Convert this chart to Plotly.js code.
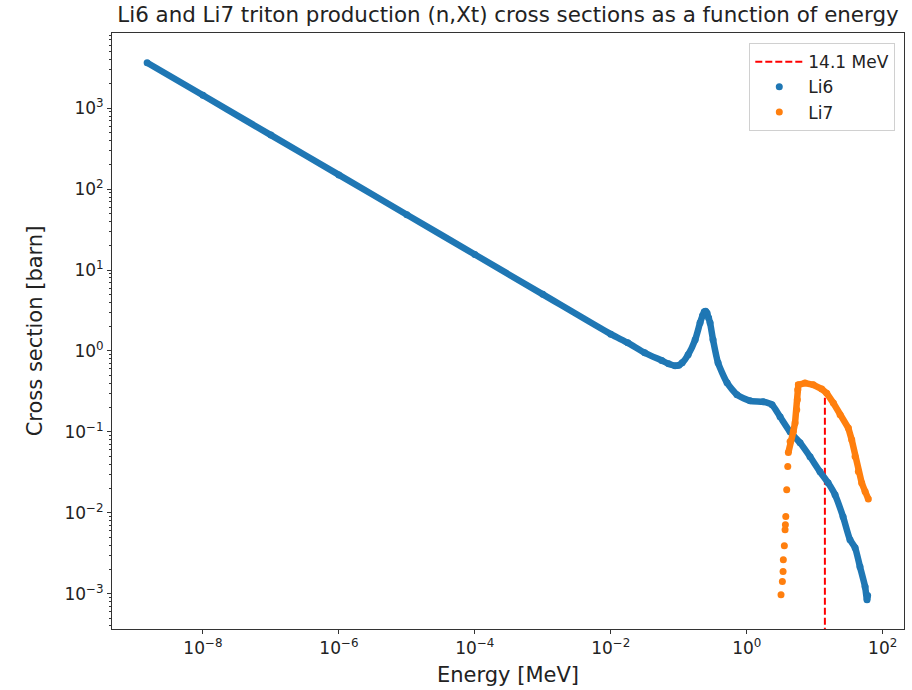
<!DOCTYPE html>
<html><head><meta charset="utf-8">
<script src="https://cdn.plot.ly/plotly-3.0.1.min.js"></script>
<style>body{margin:0;padding:0;background:#fff}#chart{width:912px;height:690px}</style>
</head><body><div id="chart"></div>
<script>
// Li6 (n,Xt) cross section, energy in MeV, cross section in barn
const li6Energy = [1.51e-9, 1e-8, 1e-7, 1e-6, 1e-5, 1e-4, 1e-3, 1e-2, 0.0178, 0.0316, 0.0562, 0.0708, 0.0883, 0.1, 0.112, 0.137, 0.174, 0.2056, 0.224, 0.237, 0.248, 0.26, 0.275, 0.2884, 0.319, 0.378, 0.513, 0.719, 1.12, 1.738, 2.355, 3.09, 4.335, 6.08, 8.53, 11.97, 15.7, 19.9, 26.1, 33.0, 39.2, 46.3, 55.0, 58.7, 60.0];
const li6Xs = [3656, 1445, 465.6, 150, 48.3, 15.56, 5.01, 1.614, 1.26, 0.95, 0.762, 0.695, 0.656, 0.668, 0.714, 0.897, 1.374, 2.228, 2.75, 3.05, 3.1, 2.95, 2.55, 2.228, 1.374, 0.714, 0.405, 0.288, 0.242, 0.2355, 0.216, 0.154, 0.1002, 0.0733, 0.0493, 0.0321, 0.0235, 0.0167, 0.00893, 0.00465, 0.0037, 0.00215, 0.00122, 0.00084, 0.00095];
// Li7 (n,Xt) cross section
const li7Energy = [3.19, 3.34, 3.42, 3.45, 3.57, 3.66, 3.70, 3.75, 3.87, 4.01, 4.09, 4.34, 4.84, 5.13, 5.43, 5.55, 5.62, 5.74, 7.19, 9.53, 12.68, 15.0, 18.8, 23.6, 31.2, 35.0, 39.2, 43.8, 49.1, 55.0, 61.4];
const li7Xs = [0.00097, 0.00142, 0.00188, 0.00263, 0.00392, 0.00617, 0.00711, 0.00902, 0.0193, 0.0374, 0.0557, 0.0760, 0.1012, 0.1285, 0.1875, 0.249, 0.331, 0.382, 0.401, 0.382, 0.338, 0.301, 0.227, 0.1626, 0.1114, 0.0798, 0.0497, 0.0324, 0.0233, 0.0184, 0.0148];
// 14.1 MeV marker line
const dtEnergy = [14.1, 14.1];
const dtXs = [1e-4, 0.30];
// tick labels
const xTickVals = [1e-8, 1e-6, 1e-4, 1e-2, 1, 100];
const xTickText = ['10<sup>−8</sup>', '10<sup>−6</sup>', '10<sup>−4</sup>', '10<sup>−2</sup>', '10<sup>0</sup>', '10<sup>2</sup>'];
const yTickVals = [1e-3, 1e-2, 1e-1, 1, 10, 100, 1000];
const yTickText = ['10<sup>−3</sup>', '10<sup>−2</sup>', '10<sup>−1</sup>', '10<sup>0</sup>', '10<sup>1</sup>', '10<sup>2</sup>', '10<sup>3</sup>'];

const BLUE = '#1f77b4', ORANGE = '#ff7f0e';
const li7DenseStart = 10;

const traces = [
  {x: dtEnergy, y: dtXs, type: 'scatter', mode: 'lines', name: '14.1 MeV',
   line: {color: '#ff0000', width: 2, dash: '7px,3px'}},
  {x: li6Energy, y: li6Xs, type: 'scatter', mode: 'lines', showlegend: false, hoverinfo: 'skip',
   line: {color: BLUE, width: 6.5, shape: 'spline', smoothing: 0.6}},
  {x: li6Energy, y: li6Xs, type: 'scatter', mode: 'markers', name: 'Li6',
   marker: {color: BLUE, size: 7}},
  {x: li7Energy.slice(li7DenseStart), y: li7Xs.slice(li7DenseStart), type: 'scatter', mode: 'lines', showlegend: false, hoverinfo: 'skip',
   line: {color: ORANGE, width: 6.5}},
  {x: li7Energy, y: li7Xs, type: 'scatter', mode: 'markers', name: 'Li7',
   marker: {color: ORANGE, size: 7}}
];

const axisCommon = {
  type: 'log', showgrid: false, zeroline: false, showline: true, mirror: true,
  linecolor: '#333', linewidth: 1, ticks: 'outside', ticklen: 4, tickwidth: 1, tickcolor: '#333',
  tickfont: {family: 'DejaVu Sans', size: 17, color: '#222'}, tickmode: 'array'
};

const layout = {
  width: 912, height: 690,
  margin: {l: 112, r: 8, t: 33, b: 61},
  paper_bgcolor: '#fff', plot_bgcolor: '#fff',
  font: {family: 'DejaVu Sans', color: '#222'},
  title: {text: 'Li6 and Li7 triton production (n,Xt) cross sections as a function of energy',
          font: {family: 'DejaVu Sans', size: 21.4, color: '#222'}, x: 0.557, xanchor: 'center', y: 0.979, yanchor: 'middle'},
  xaxis: Object.assign({}, axisCommon, {
    range: [-9.338, 2.313], tickvals: xTickVals, ticktext: xTickText,
    title: {text: 'Energy [MeV]', font: {family: 'DejaVu Sans', size: 21, color: '#222'}, standoff: 9}
  }),
  yaxis: Object.assign({}, axisCommon, {
    range: [-3.436, 3.930], tickvals: yTickVals, ticktext: yTickText,
    minor: {ticks: 'outside', ticklen: 2, tickwidth: 1, tickcolor: '#333', dtick: 'D1', showgrid: false},
    title: {text: 'Cross section [barn]', font: {family: 'DejaVu Sans', size: 21, color: '#222'}, standoff: 16}
  }),
  legend: {x: 0.989, y: 0.983, xanchor: 'right', yanchor: 'top', bgcolor: '#fff',
           bordercolor: '#d0d0d0', borderwidth: 1, font: {family: 'DejaVu Sans', size: 17, color: '#222'}, itemwidth: 48},
  showlegend: true
};

Plotly.newPlot('chart', traces, layout, {displayModeBar: false, staticPlot: true});
</script>
</body></html>
